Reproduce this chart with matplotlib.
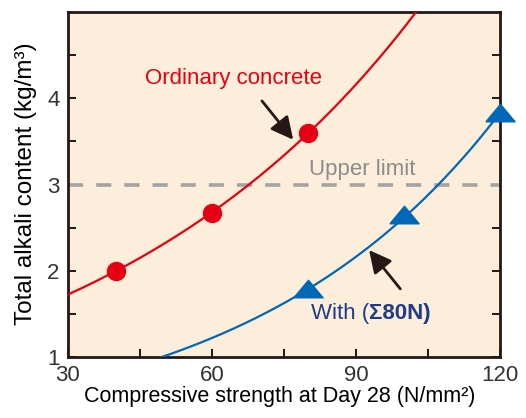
import matplotlib
matplotlib.use("Agg")
import matplotlib.pyplot as plt
import numpy as np

plt.rcParams['font.family'] = ['Liberation Sans', 'DejaVu Sans']

# 데이터
ordinary_x = [40, 60, 80]
ordinary_y = [2.0, 2.67, 3.6]
with_x = [80, 100, 120]
with_y = [1.78, 2.64, 3.82]
upper_limit = 3.0

x_ticks = [30, 60, 90, 120]
x_minor = [45, 75, 105]
y_ticks = [1, 2, 3, 4]
y_minor = [1.5, 2.5, 3.5, 4.5]

RED = '#E60012'
BLUE = '#0068B7'
DARK = '#231815'

fig = plt.figure(figsize=(5.26, 4.18), dpi=100)
ax = fig.add_axes([0.129, 0.146, 0.822, 0.825])
ax.set_facecolor('#FCEEDA')

# 지수 근사 곡선 (마커 값으로 맞춤)
def exp_fit(xs, ys, x0, x1):
    b, a = np.polyfit(xs, np.log(ys), 1)
    xx = np.linspace(x0, x1, 200)
    return xx, np.exp(a + b * xx)

cx, cy = exp_fit(ordinary_x, ordinary_y, 30, 110)
ax.plot(cx, cy, color=RED, lw=1.6, zorder=3)
cx, cy = exp_fit(with_x, with_y, 40, 120)
ax.plot(cx, cy, color=BLUE, lw=1.6, zorder=3)

# 상한선
ax.axhline(upper_limit, color='#A3A3A3', lw=2.6, dashes=(4.2, 3.6), zorder=2)

ax.plot(ordinary_x, ordinary_y, 'o', color=RED, markersize=13, zorder=4)
tri = [(-1.5, -0.75), (1.5, -0.75), (0, 1.05), (-1.5, -0.75)]
ax.plot(with_x, with_y, linestyle='none', marker=tri, color=BLUE,
        markersize=21, zorder=4, clip_on=False)

# 텍스트와 화살표
ax.text(64.4, 4.23, 'Ordinary concrete', color=RED, fontsize=16,
        ha='center', va='center')
ax.annotate('', xy=(76.9, 3.52), xytext=(70.4, 3.97),
            arrowprops=dict(arrowstyle='-|>,head_length=0.75,head_width=0.38',
                            color=DARK, lw=2, mutation_scale=18,
                            shrinkA=0, shrinkB=0))
ax.text(91.3, 3.17, 'Upper limit', color='#8C8C8C', fontsize=16,
        ha='center', va='center')
t1 = ax.text(80.6, 1.5, 'With (', color='#1F3C88', fontsize=16,
             ha='left', va='center')
ax.annotate('Σ80N)', xy=(1, 0.5), xycoords=t1, color='#1F3C88', fontsize=16,
            fontweight='bold', ha='left', va='center')
ax.annotate('', xy=(92.7, 2.24), xytext=(99.2, 1.79),
            arrowprops=dict(arrowstyle='-|>,head_length=0.75,head_width=0.38',
                            color=DARK, lw=2, mutation_scale=18,
                            shrinkA=0, shrinkB=0))

ax.set_xlim(30, 120)
ax.set_ylim(1, 5)
ax.set_xticks(x_ticks)
ax.set_xticks(x_minor, minor=True)
ax.set_yticks(y_ticks)
ax.set_yticks(y_minor, minor=True)
ax.tick_params(which='both', direction='in', length=6, width=1.4,
               color=DARK, right=True, top=False, labelsize=16,
               labelcolor='#333333', pad=6)

for s in ax.spines.values():
    s.set_linewidth(2)
    s.set_color(DARK)

ax.set_xlabel('Compressive strength at Day 28 (N/mm²)', fontsize=15.5)
ax.set_ylabel('Total alkali content (kg/m³)', fontsize=17.5)
ax.xaxis.set_label_coords(0.49, -0.085)
ax.yaxis.set_label_coords(-0.072, 0.503)

fig.savefig('out.png', dpi=100)
